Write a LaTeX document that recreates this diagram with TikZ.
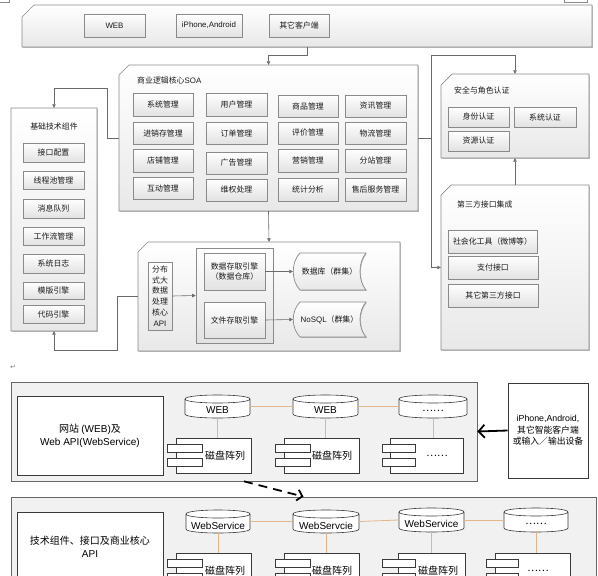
\documentclass[tikz,border=0pt]{standalone}
\usepackage{fontspec}
\setmainfont{Noto Sans CJK SC}
\newfontfamily\lat{Liberation Sans}
\newfontfamily\djv{DejaVu Sans}
\usetikzlibrary{arrows.meta,shadows}
\definecolor{bord}{HTML}{8A8A8A}
\definecolor{connc}{HTML}{6A6A6A}
\definecolor{orgc}{HTML}{E3B58A}
\definecolor{panc}{HTML}{E8E8E8}
\definecolor{itmc}{HTML}{E2E2E2}
\definecolor{lowfill}{HTML}{F1F1F1}
\definecolor{lowline}{HTML}{3A3A3A}
\definecolor{txt}{HTML}{1A1A1A}
\newcommand\upfont{\fontsize{7.9}{10.7}\selectfont}
\newcommand\lowfont{\fontsize{10}{13}\selectfont}
\newcommand\devfont{\fontsize{8.8}{11.6}\selectfont}
\newcommand\bx[7]{\node[#1, minimum width={#5-#3}, minimum height={#6-#4}] (#2) at ({(#3+#5)/2},{(#4+#6)/2}) {#7};}
\newcommand\chpanel[6]{%
  \shade[panelst] ({#2},{#3+#6}) -- ({#2+#6},{#3}) -- ({#4},{#3}) -- ({#4},{#5}) -- ({#2},{#5}) -- cycle;
  \node[inner sep=0pt, minimum width={#4-#2}, minimum height={#5-#3}] (#1) at ({(#2+#4)/2},{(#3+#5)/2}) {};}
\newcommand\cyl[6]{%
  \filldraw[cylst] ({#2},{#3+4}) -- ({#2},{#5-4}) .. controls ({#2},{#5+1.33}) and ({#4},{#5+1.33}) .. ({#4},{#5-4}) -- ({#4},{#3+4}) .. controls ({#4},{#3-1.33}) and ({#2},{#3-1.33}) .. cycle;
  \draw[cylst] ({#2},{#3+4}) .. controls ({#2},{#3+9.33}) and ({#4},{#3+9.33}) .. ({#4},{#3+4});
  \node[inner sep=0pt, minimum width={#4-#2}, minimum height={#5-#3}] (#1) at ({(#2+#4)/2},{(#3+#5)/2}) {};
  \node[lowtext] (#1t) at ({(#2+#4)/2},{(#3+#5)/2+4}) {#6};}
\newcommand\comp[9]{%
  \node[inner sep=0pt, draw=lowline, fill=white, line width=0.6pt, minimum width={#4-#2}, minimum height={#5-#3}] (#1) at ({(#2+#4)/2},{(#3+#5)/2}) {};
  \filldraw[draw=lowline, fill=white, line width=0.6pt] ({#6},{#3+6}) rectangle ({#7},{#3+14});
  \filldraw[draw=lowline, fill=white, line width=0.6pt] ({#6},{#3+20}) rectangle ({#7},{#3+28});
  \node[lowtext] (#1t) at ({#8},{(#3+#5)/2}) {#9};}
\newcommand\scroll[6]{%
  \shade[panelst] ({#2+7},{#3}) -- ({#4},{#3}) .. controls ({#4-8},{#3+9}) and ({#4-8},{#5-9}) .. ({#4},{#5}) -- ({#2+7},{#5}) .. controls ({#2-2},{#5-9}) and ({#2-2},{#3+9}) .. cycle;
  \node[inner sep=0pt, font=\upfont, text=txt, minimum width={#4-#2}, minimum height={#5-#3}] (#1) at ({(#2+#4)/2},{(#3+#5)/2}) {#6};}
\tikzset{
  panelst/.style={draw=bord, top color=white, bottom color=panc, line width=0.7pt,
    drop shadow={shadow xshift=0.8pt, shadow yshift=-0.8pt, fill=black, opacity=0.25}},
  item/.style={draw=bord, top color=white, bottom color=itmc, line width=0.6pt, inner sep=0pt,
    font=\upfont, text=txt, align=center,
    drop shadow={shadow xshift=0.6pt, shadow yshift=-0.6pt, fill=black, opacity=0.2}},
  uptitle/.style={font=\upfont, text=txt, inner sep=0pt},
  conn/.style={draw=connc, line width=0.6pt, -{Triangle[length=3.5pt,width=3.5pt]}},
  cylst/.style={draw=lowline, fill=white, line width=0.6pt},
  lowtext/.style={font=\lowfont, text=black, inner sep=0pt, align=center},
  lowpanel/.style={draw=gray!80!black, fill=lowfill, line width=0.7pt, inner sep=0pt},
  whitebox/.style={draw=lowline, fill=white, line width=0.7pt, inner sep=0pt, font=\lowfont, align=center},
  devbox/.style={whitebox, font=\devfont},
  orgline/.style={draw=orgc, line width=0.8pt}
}
\begin{document}
\begin{tikzpicture}[x=1pt,y=-1pt]
\useasboundingbox (0,0) rectangle (598,576);
\fill[white] (0,0) rectangle (598,576);
\clip (0,0) rectangle (598,576);

% edge fragments
\draw[bord, line width=0.6pt] (0,2) -- (9,2) -- (9,0);
\draw[bord, line width=0.6pt] (564,0) -- (564,2) -- (587,2) -- (587,0);

% ---------- top client bar ----------
\chpanel{topbar}{22}{5}{592}{47}{12}
\bx{item}{web}{84}{14}{145}{37}{\lat WEB}
\bx{item}{iph}{176}{14}{242}{37}{\lat iPhone,Android}
\bx{item}{othc}{269}{14}{329}{37}{其它客户端}

% ---------- SOA ----------
\chpanel{soa}{119}{65}{418}{211}{10}
\node[uptitle, anchor=west] (soat) at (137,80) {商业逻辑核心{\lat SOA}};
\bx{item}{s11}{133}{93}{193}{116}{系统管理}
\bx{item}{s12}{206}{93}{267}{116}{用户管理}
\bx{item}{s13}{278}{95}{338}{117}{商品管理}
\bx{item}{s14}{345}{95}{406}{117}{资讯管理}
\bx{item}{s21}{133}{122}{193}{144}{进销存管理}
\bx{item}{s22}{206}{122}{267}{144}{订单管理}
\bx{item}{s23}{278}{122}{338}{144}{评价管理}
\bx{item}{s24}{345}{122}{406}{144}{物流管理}
\bx{item}{s31}{133}{149}{193}{172}{店铺管理}
\bx{item}{s32}{206}{152}{267}{174}{广告管理}
\bx{item}{s33}{278}{149}{338}{172}{营销管理}
\bx{item}{s34}{345}{149}{406}{172}{分站管理}
\bx{item}{s41}{133}{177}{193}{199}{互动管理}
\bx{item}{s42}{206}{179}{267}{201}{维权处理}
\bx{item}{s43}{278}{178}{338}{201}{统计分析}
\bx{item}{s44}{345}{178}{406}{201}{售后服务管理}

% ---------- base components ----------
\chpanel{base}{11}{108}{97}{331}{0.01}
\node[uptitle] (baset) at (54,126) {基础技术组件};
\bx{item}{b1}{23}{143}{84}{162}{接口配置}
\bx{item}{b2}{23}{171}{84}{189}{线程池管理}
\bx{item}{b3}{23}{199}{84}{218}{消息队列}
\bx{item}{b4}{23}{227}{84}{245}{工作流管理}
\bx{item}{b5}{23}{254}{84}{273}{系统日志}
\bx{item}{b6}{23}{282}{84}{299}{模版引擎}
\bx{item}{b7}{23}{305}{84}{323}{代码引擎}

% ---------- data layer ----------
\chpanel{data}{138}{242}{400}{351}{10}
\bx{item}{api}{148}{262}{172}{330}{分布\\式大\\数据\\处理\\核心\\{\lat API}}
\bx{item}{inner}{196}{248}{273}{343}{}
\bx{item}{dse}{204}{253}{265}{290}{数据存取引擎\\（数据仓库）}
\bx{item}{fse}{204}{302}{265}{338}{文件存取引擎}
\scroll{db}{293}{253}{366}{290}{数据库（群集）}
\scroll{nosql}{293}{302}{366}{337}{{\lat NoSQL}（群集）}

% ---------- security ----------
\chpanel{sec}{441}{74}{589}{158}{11}
\node[uptitle, anchor=west] (sect) at (454,90) {安全与角色认证};
\bx{item}{sf}{448}{107}{509}{127}{身份认证}
\bx{item}{xt}{514}{107}{576}{127}{系统认证}
\bx{item}{zy}{448}{131}{509}{151}{资源认证}

% ---------- third party ----------
\chpanel{third}{441}{185}{589}{350}{10}
\node[uptitle, anchor=west] (thirdt) at (457,204) {第三方接口集成};
\bx{item}{sh}{448}{230}{537}{253}{社会化工具（微博等）}
\bx{item}{zf}{448}{256}{538}{279}{支付接口}
\bx{item}{qt}{448}{284}{538}{307}{其它第三方接口}

% ---------- upper connectors ----------
\draw[conn] (topbar.south) -- ++(0,8) -| (soa.north);
\draw[conn] (soa.west) -- ++(-12,0) -- ++(0,-50) -| (base.north);
\draw[conn] (soa.south) -- (data.north);
\draw[conn] (data.west) -- ++(-21,0) -- ++(0,54) -| (base.south);
\draw[conn] (soa.east) -- ++(13,0) |- ([yshift=19pt]sec.north) -- (sec.north);
\draw[conn] (soa.east) -- ++(13,0) |- (third.west);
\draw[conn] (third.north) -- (sec.south);
\draw[conn] (api.east) -- (inner.west);
\draw[conn] (dse.east) -- (db.west);
\draw[conn] (fse.east) -- (nosql.west);

% return mark
\node[font=\djv\fontsize{7}{8}\selectfont, text=gray, inner sep=0pt] (ret) at (13,367) {↵};

% ---------- lower part: web layer ----------
\bx{lowpanel}{box1}{11}{382}{477}{481}{}
\bx{whitebox}{w1}{17}{396}{163}{475}{网站 {\lat (WEB)}及\\{\lat Web API(WebService)}}
\cyl{cA1}{185}{395}{250}{418}{\lat WEB}
\cyl{cA2}{293}{395}{358}{418}{\lat WEB}
\cyl{cA3}{399}{395}{467}{418}{……}
\comp{pA1}{176}{438}{251}{473}{167}{202}{225}{磁盘阵列}
\comp{pA2}{284}{438}{359}{473}{275}{310}{332}{磁盘阵列}
\comp{pA3}{390}{438}{463}{473}{382}{415}{437}{……}
\draw[orgline] (cA1.east) -- (cA2.west);
\draw[orgline] (cA2.east) -- (cA3.west);
\draw[orgline] (cA1.south) -- (cA1.south |- pA1.north);
\draw[orgline] (cA2.south) -- (cA2.south |- pA2.north);
\draw[orgline] (cA3.south) -- (cA3.south |- pA3.north);

\bx{devbox}{dev}{508}{383}{588}{478}{{\lat iPhone,Android,}\\其它智能客户端\\或输入／输出设备}
\draw[line width=1.8pt, -{Straight Barb[length=6pt,width=13pt]}] (dev.west) -- (box1.east);

% ---------- lower part: service layer ----------
\bx{lowpanel}{box2}{11}{497}{596}{620}{}
\draw[line width=1.8pt, dash pattern=on 9pt off 6pt, -{Straight Barb[length=5pt,width=11pt]}] (box1.south) -- (box2.north);
\bx{whitebox}{w2}{17}{512}{163}{620}{}
\node[lowtext] (w2t) at (90,547) {技术组件、接口及商业核心\\{\lat API}};
\cyl{cB1}{186}{510}{250}{533}{\lat WebService}
\cyl{cB2}{293}{510}{359}{533}{\lat WebServcie}
\cyl{cB3}{399}{508}{464}{532}{\lat WebService}
\cyl{cB4}{504}{508}{568}{532}{……}
\comp{pB1}{176}{553}{251}{588}{167}{202}{225}{磁盘阵列}
\comp{pB2}{284}{553}{359}{588}{275}{310}{332}{磁盘阵列}
\comp{pB3}{398}{553}{465}{588}{382}{415}{438}{磁盘阵列}
\comp{pB4}{495}{553}{570}{588}{486}{518}{538}{……}
\draw[orgline] (cB1.east) -- (cB2.west);
\draw[orgline] (cB2.east) -- (cB3.west);
\draw[orgline] (cB3.east) -- (cB4.west);
\draw[orgline] (cB1.south) -- (cB1.south |- pB1.north);
\draw[orgline] (cB2.south) -- (cB2.south |- pB2.north);
\draw[orgline] (cB3.south) -- (cB3.south |- pB3.north);
\draw[orgline] (cB4.south) -- (cB4.south |- pB4.north);
\end{tikzpicture}
\end{document}
